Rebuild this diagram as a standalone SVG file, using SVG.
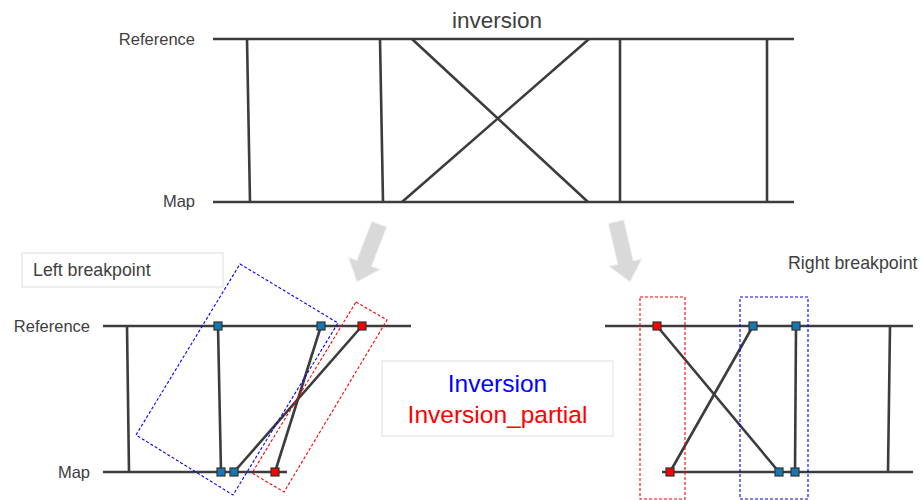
<svg xmlns="http://www.w3.org/2000/svg" width="921" height="500" viewBox="0 0 921 500">
<defs>
<style>
.ln{stroke:#3c3c3c;stroke-width:2.6;fill:none;stroke-linecap:butt}
.lbl{font-family:"Liberation Sans",Arial,sans-serif;font-size:16.5px;fill:#404040}
.sub{font-family:"Liberation Sans",Arial,sans-serif;font-size:17.8px;fill:#404040}
.bsq{fill:#1479b3;stroke:#333;stroke-width:1.2}
.rsq{fill:#ff0000;stroke:#333;stroke-width:1.2}
.bd{fill:none;stroke:#0000ff;stroke-width:1.1;stroke-dasharray:3,2}
.rd{fill:none;stroke:#ff0000;stroke-width:1.1;stroke-dasharray:3,2}
.arr{fill:#d9d9d9;stroke:#f2f2f2;stroke-width:1}
</style>
<path id="garrow" d="M-8,-62 L8,-62 L8,-20 L17,-20 L0,0 L-17,-20 L-8,-20 Z"/>
</defs>
<rect width="921" height="500" fill="#ffffff"/>

<g id="top-diagram">
<text x="497" y="28" text-anchor="middle" font-family="Liberation Sans,Arial,sans-serif" font-size="22.5" fill="#404040">inversion</text>
<text class="lbl" x="195" y="45" text-anchor="end">Reference</text>
<text class="lbl" x="195" y="207" text-anchor="end">Map</text>
<g id="top-connectors">
<line class="ln" x1="213" y1="39" x2="794" y2="39"/>
<line class="ln" x1="213" y1="202" x2="794" y2="202"/>
<line class="ln" x1="247" y1="39" x2="250" y2="202"/>
<line class="ln" x1="380" y1="39" x2="383" y2="202"/>
<line class="ln" x1="412" y1="39" x2="588" y2="202"/>
<line class="ln" x1="402" y1="202" x2="589" y2="39"/>
<line class="ln" x1="620" y1="39" x2="620" y2="202"/>
<line class="ln" x1="767" y1="39" x2="767" y2="202"/>
</g>
</g>

<g id="arrows">
<use href="#garrow" class="arr" transform="translate(357,282) rotate(21)"/>
<use href="#garrow" class="arr" transform="translate(630,282) rotate(-13)"/>
</g>

<g id="left-breakpoint">
<rect x="22" y="253" width="201" height="34" fill="#fff" stroke="#dddddd" stroke-width="1"/>
<text class="sub" x="33" y="276">Left breakpoint</text>
<text class="lbl" x="90" y="332" text-anchor="end">Reference</text>
<text class="lbl" x="90" y="478" text-anchor="end">Map</text>
<g id="left-connectors">
<line class="ln" x1="103" y1="326" x2="411" y2="326"/>
<line class="ln" x1="103" y1="472" x2="287" y2="472"/>
<line class="ln" x1="127" y1="326" x2="129" y2="472"/>
<line class="ln" x1="218" y1="326" x2="221" y2="472"/>
<line class="ln" x1="321" y1="326" x2="275" y2="472"/>
<line class="ln" x1="362" y1="326" x2="234" y2="472"/>
</g>
<polygon class="bd" points="240,264 338,323 233,495 136,435"/>
<polygon class="rd" points="356,302 387,320 284,492 252,473"/>
<rect class="bsq" x="214" y="322" width="8" height="8"/>
<rect class="bsq" x="317" y="322" width="8" height="8"/>
<rect class="rsq" x="358" y="322" width="8" height="8"/>
<rect class="bsq" x="217" y="468" width="8" height="8"/>
<rect class="bsq" x="230" y="468" width="8" height="8"/>
<rect class="rsq" x="271" y="468" width="8" height="8"/>
</g>

<g id="legend">
<rect x="382" y="361" width="231" height="75" fill="#fff" stroke="#e0e0e0" stroke-width="1"/>
<text x="497.5" y="392" text-anchor="middle" font-family="Liberation Sans,Arial,sans-serif" font-size="24.5" fill="#0000ff">Inversion</text>
<text x="497.5" y="423" text-anchor="middle" font-family="Liberation Sans,Arial,sans-serif" font-size="24.5" fill="#ff0000">Inversion_partial</text>
</g>

<g id="right-breakpoint">
<text class="sub" x="788" y="269">Right breakpoint</text>
<g id="right-connectors">
<line class="ln" x1="605" y1="326" x2="913" y2="326"/>
<line class="ln" x1="662" y1="472" x2="913" y2="472"/>
<line class="ln" x1="657" y1="326" x2="779" y2="472"/>
<line class="ln" x1="753" y1="326" x2="670" y2="472"/>
<line class="ln" x1="796" y1="326" x2="795" y2="472"/>
<line class="ln" x1="890" y1="326" x2="888" y2="472"/>
</g>
<rect class="rd" x="640" y="297" width="45" height="202"/>
<rect class="bd" x="740" y="297" width="68" height="202"/>
<rect class="rsq" x="653" y="322" width="8" height="8"/>
<rect class="bsq" x="749" y="322" width="8" height="8"/>
<rect class="bsq" x="792" y="322" width="8" height="8"/>
<rect class="rsq" x="666" y="468" width="8" height="8"/>
<rect class="bsq" x="775" y="468" width="8" height="8"/>
<rect class="bsq" x="791" y="468" width="8" height="8"/>
</g>
</svg>
